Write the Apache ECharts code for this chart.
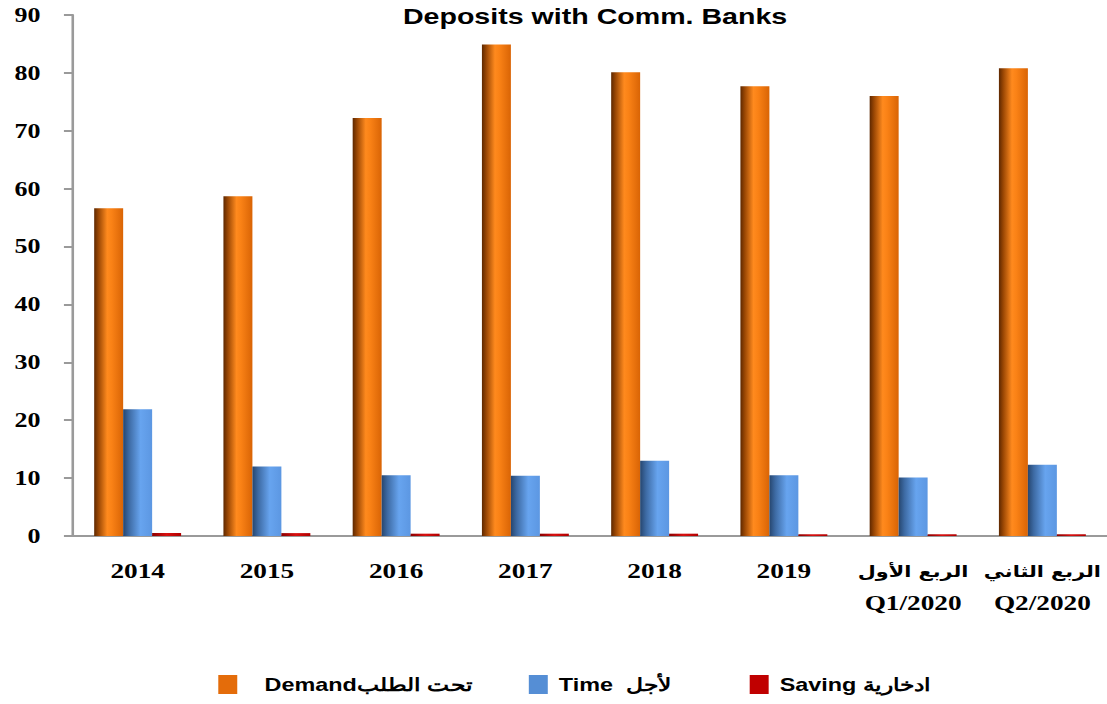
<!DOCTYPE html>
<html>
<head>
<meta charset="utf-8">
<script src="https://cdn.jsdelivr.net/npm/echarts@6/dist/echarts.min.js"></script>
<style>
  html, body { margin: 0; padding: 0; background: #fff; overflow: hidden; }
  /* the source picture is stretched sideways, so the chart is drawn narrow and scaled */
  #main { width: 852px; height: 704px; transform: scaleX(1.2993); transform-origin: 0 0; }
</style>
</head>
<body>
<div id="main"></div>
<script>
const categories = ['2014', '2015', '2016', '2017', '2018', '2019', 'الربع الأول\nQ1/2020', 'الربع الثاني\nQ2/2020']
const demand = [56.6, 58.7, 72.2, 84.9, 80.1, 77.7, 76.0, 80.8]
const time = [21.9, 12.0, 10.5, 10.4, 13.0, 10.5, 10.1, 12.3]
const saving = [0.5, 0.5, 0.4, 0.4, 0.4, 0.3, 0.3, 0.3]
const seriesNames = ['Demandتحت الطلب', 'Time  لأجل', 'Saving ادخارية']
const legendColors = ['#e46c0a', '#558ed5', '#c00000']

const chart = echarts.init(document.getElementById('main'), null, { renderer: 'svg' })

function grad(stops) {
  return new echarts.graphic.LinearGradient(0, 0, 1, 0,
    stops.map(s => ({ offset: s[0], color: s[1] })))
}

const orange = grad([[0, '#5e2800'], [0.15, '#9a4704'], [0.45, '#ff8a1e'], [0.6, '#fa8216'], [1, '#d96405']])
const blue = grad([[0, '#26466f'], [0.2, '#3d6aa3'], [0.6, '#67a4ef'], [1, '#5c97e2']])
const red = grad([[0, '#8a0000'], [0.5, '#d81010'], [1, '#b00000']])

const axisGray = '#9a9a9a'
const legendFont = { fontFamily: 'Liberation Sans, Arial', fontWeight: 'bold', fontSize: 18, color: '#000' }
const serifBold = { fontFamily: 'Liberation Serif, Times New Roman', fontWeight: 'bold', color: '#000' }

// one legend per item so each sits where it does in the picture
const legendLefts = [163, 402, 572]
const legendPads = [16, 3.5, 3.5]
const legends = seriesNames.map((n, i) => ({
  bottom: 5,
  left: legendLefts[i],
  itemWidth: 14.6,
  itemHeight: 19,
  icon: 'rect',
  data: [{ name: n, itemStyle: { color: legendColors[i] } }],
  formatter: '{t|{name}}',
  textStyle: Object.assign({
    rich: { t: Object.assign({ padding: [0, 0, 0, legendPads[i]] }, legendFont) }
  }, legendFont)
}))

chart.setOption({
  animation: false,
  title: {
    text: 'Deposits with Comm. Banks',
    left: 453,
    textAlign: 'center',
    top: 0,
    textStyle: { fontFamily: 'Liberation Sans, Arial', fontWeight: 'bold', fontSize: 22, color: '#000' }
  },
  legend: legends,
  grid: { left: 56.2, right: 0, top: 15, bottom: 168 },
  xAxis: {
    type: 'category',
    data: categories,
    axisLine: { lineStyle: { color: axisGray, width: 2 } },
    axisTick: { length: 9, lineStyle: { color: axisGray, width: 2 } },
    axisLabel: {
      interval: 0,
      margin: 19,
      lineHeight: 32,
      fontSize: 21,
      ...serifBold,
      formatter: v => v.split('\n').map((s, i, a) => (a.length > 1 && i === 0 ? '{ar|' : '{en|') + s + '}').join('\n'),
      rich: {
        ar: { fontFamily: 'DejaVu Sans', fontWeight: 'bold', fontSize: 16, lineHeight: 32, color: '#000' },
        en: { ...serifBold, fontSize: 21, lineHeight: 32 }
      }
    }
  },
  yAxis: {
    type: 'value',
    min: 0,
    max: 90,
    interval: 10,
    splitLine: { show: false },
    axisLine: { show: true, lineStyle: { color: axisGray, width: 2 } },
    axisTick: { show: true, length: 7, lineStyle: { color: axisGray, width: 2 } },
    axisLabel: { margin: 25, fontSize: 20, ...serifBold }
  },
  series: [
    { name: seriesNames[0], type: 'bar', data: demand, barWidth: 22.3, barGap: '0%', itemStyle: { color: orange } },
    { name: seriesNames[1], type: 'bar', data: time, barWidth: 22.3, barGap: '0%', itemStyle: { color: blue } },
    { name: seriesNames[2], type: 'bar', data: saving, barWidth: 22.3, barGap: '0%', itemStyle: { color: red } }
  ]
})
</script>
</body>
</html>
